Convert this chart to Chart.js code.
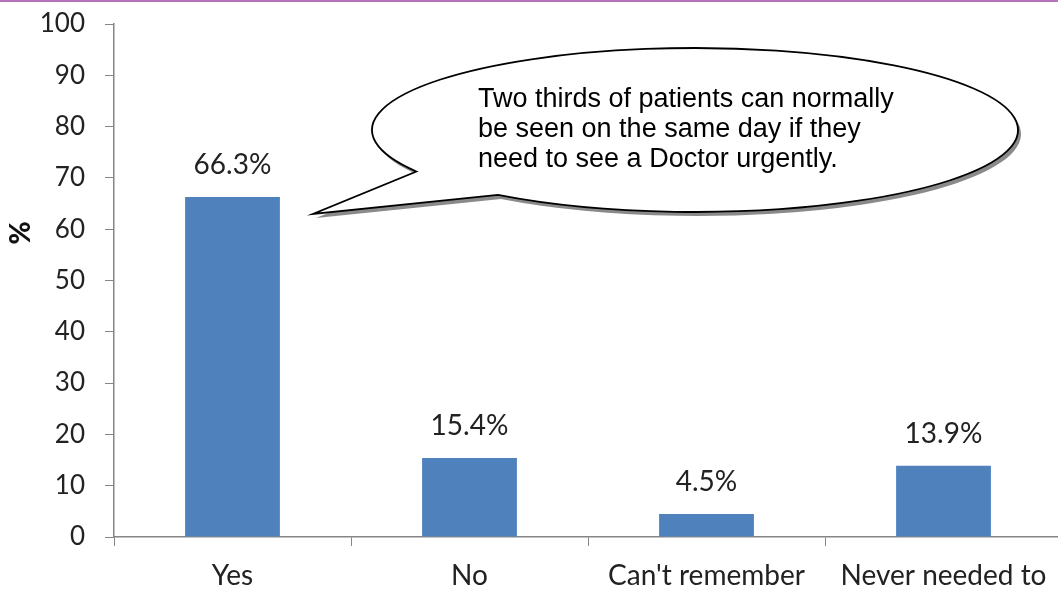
<!DOCTYPE html>
<html>
<head>
<meta charset="utf-8">
<script src="https://cdn.jsdelivr.net/npm/chart.js@4/dist/chart.umd.min.js"></script>
<style>
  html, body { margin: 0; padding: 0; background: #fff; overflow: hidden; }
  #wrap { width: 1058px; height: 590px; overflow: hidden; position: relative; }
  canvas { display: block; }
</style>
</head>
<body>
<div id="wrap"><canvas id="chart" width="1062" height="590"></canvas></div>
<script>
// Data
const categories = ['Yes', 'No', "Can't remember", 'Never needed to'];
const percentages = [66.3, 15.4, 4.5, 13.9];
const valueLabels = ['66.3%', '15.4%', '4.5%', '13.9%'];
const yMin = 0;
const yMax = 100;
const yStep = 10;
const axisTitle = '%';
const calloutLines = [
    'Two thirds of patients can normally',
    'be seen on the same day if they',
    'need to see a Doctor urgently.'
];

const axisGrey = '#868686';
const textColor = '#222';

// Labels above bars, axis title, top rule and the speech bubble
const extrasPlugin = {
    id: 'extras',
    beforeDraw(chart) {
        const ctx = chart.ctx;
        ctx.save();
        ctx.fillStyle = '#b872b8';
        ctx.fillRect(0, 0, chart.width, 2);
        ctx.restore();
    },
    afterDatasetsDraw(chart) {
        const ctx = chart.ctx;
        const meta = chart.getDatasetMeta(0);
        ctx.save();
        ctx.fillStyle = textColor;
        ctx.font = '28px Lato';
        ctx.textAlign = 'center';
        ctx.textBaseline = 'alphabetic';
        meta.data.forEach((bar, i) => {
            ctx.fillText(valueLabels[i], bar.x, bar.y - 23);
        });

        // y axis title
        ctx.translate(21, 233);
        ctx.rotate(-Math.PI / 2);
        ctx.font = '900 28px Lato';
        ctx.textBaseline = 'middle';
        ctx.fillStyle = '#111';
        ctx.fillText(axisTitle, 0, 0);
        ctx.restore();
    },
    afterDraw(chart) {
        const ctx = chart.ctx;
        const cx = 695, cy = 130, rx = 323, ry = 82;
        const a1 = 149.6 * Math.PI / 180;
        const a2 = (127.6 + 360) * Math.PI / 180;
        const tip = [313, 214];

        function bubble(dx, dy) {
            ctx.beginPath();
            ctx.ellipse(cx + dx, cy + dy, rx, ry, 0, a1, a2);
            ctx.lineTo(tip[0] + dx, tip[1] + dy);
            ctx.closePath();
        }

        ctx.save();
        bubble(3, 4);
        ctx.fillStyle = '#8a8a8a';
        ctx.fill();
        bubble(0, 0);
        ctx.fillStyle = '#fff';
        ctx.fill();
        ctx.lineWidth = 1.8;
        ctx.strokeStyle = '#000';
        ctx.stroke();

        ctx.fillStyle = '#000';
        ctx.font = '27px "Liberation Sans", Arial, sans-serif';
        ctx.textAlign = 'left';
        ctx.textBaseline = 'alphabetic';
        calloutLines.forEach((line, i) => {
            ctx.fillText(line, 478, 107 + i * 30);
        });
        ctx.restore();
    }
};

const chart = new Chart(document.getElementById('chart'), {
    type: 'bar',
    data: {
        labels: categories,
        datasets: [{
            data: percentages,
            backgroundColor: '#4f81bd',
            borderWidth: 0,
            barPercentage: 0.4,
            categoryPercentage: 1.0
        }]
    },
    options: {
        responsive: false,
        animation: false,
        layout: { padding: { top: 24, left: 0, right: 0, bottom: 0 } },
        plugins: {
            legend: { display: false },
            tooltip: { enabled: false }
        },
        scales: {
            x: {
                grid: {
                    display: true,
                    drawOnChartArea: false,
                    drawTicks: true,
                    tickLength: 9,
                    color: axisGrey,
                    offset: true
                },
                border: { display: true, color: axisGrey, width: 1.5 },
                ticks: { font: { family: 'Lato', size: 28 }, color: textColor, padding: 13, maxRotation: 0 },
                afterFit(scale) {
                    scale.height = 53;
                    scale.paddingLeft = 0;
                    scale.paddingRight = 0;
                }
            },
            y: {
                min: yMin,
                max: yMax,
                grid: {
                    display: true,
                    drawOnChartArea: false,
                    drawTicks: true,
                    tickLength: 9,
                    color: axisGrey
                },
                border: { display: true, color: axisGrey, width: 1.5 },
                ticks: { stepSize: yStep, font: { family: 'Lato', size: 26 }, color: textColor, padding: 20 },
                afterFit(scale) {
                    scale.width = 114;
                    scale.paddingTop = 0;
                    scale.paddingBottom = 0;
                }
            }
        }
    },
    plugins: [extrasPlugin]
});
</script>
</body>
</html>
